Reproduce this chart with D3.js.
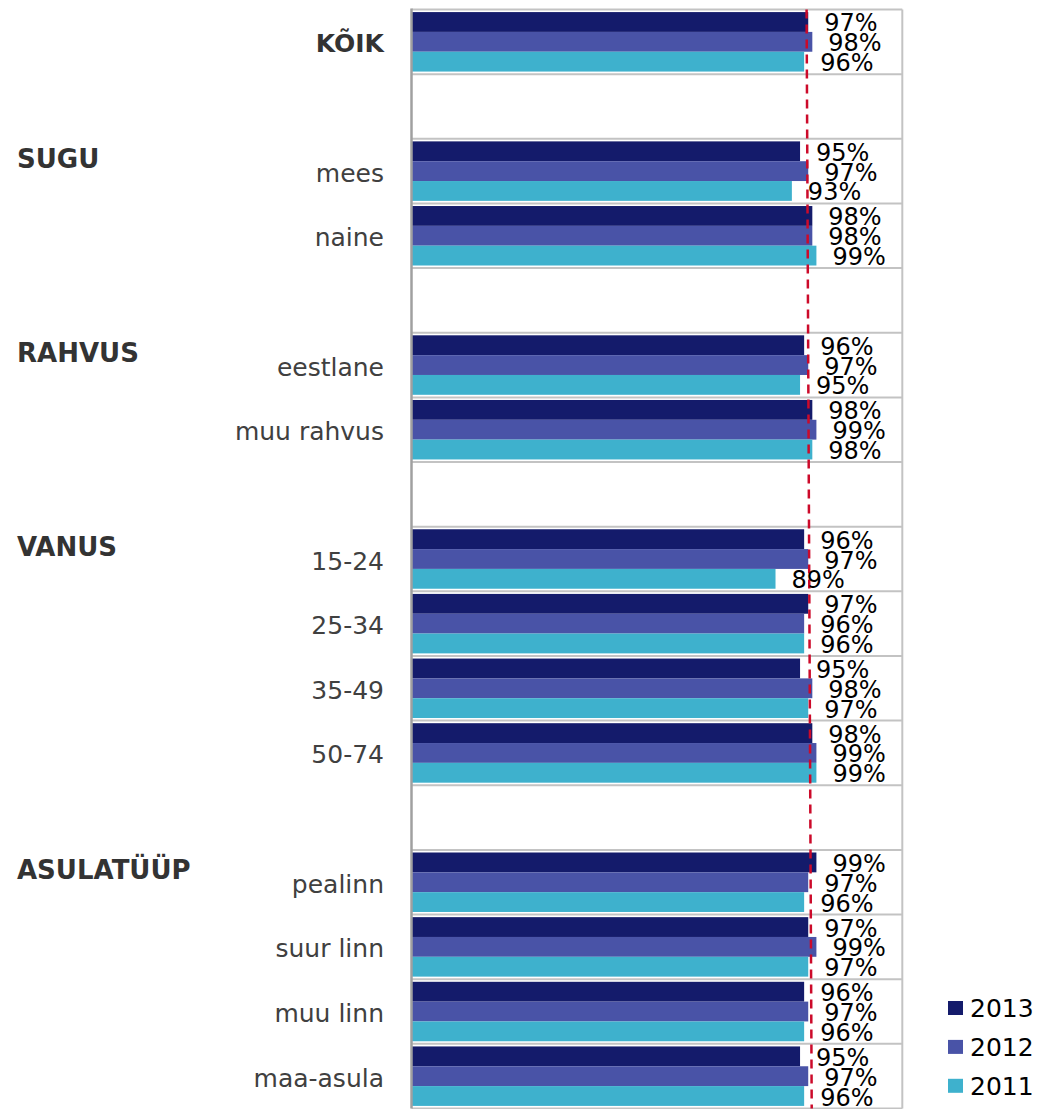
<!DOCTYPE html>
<html>
<head>
<meta charset="utf-8">
<script src="https://cdn.jsdelivr.net/npm/d3@7"></script>
<style>
  html, body { margin: 0; padding: 0; background: #fff; }
  svg { display: block; font-family: "DejaVu Sans", Verdana, sans-serif; }
</style>
</head>
<body>
<svg id="chart" width="1038" height="1109"></svg>
<script>
// ---- data ----
const categories = ["KÕIK", "", "mees", "naine", "", "eestlane", "muu rahvus", "",
  "15-24", "25-34", "35-49", "50-74", "", "pealinn", "suur linn", "muu linn", "maa-asula"];
const boldCategories = ["KÕIK"];
const groupHeaders = ["SUGU", "RAHVUS", "VANUS", "ASULATÜÜP"];
const groupHeaderRows = [2, 5, 8, 13];
const years = ["2013", "2012", "2011"];
const values2013 = [97, null, 95, 98, null, 96, 98, null, 96, 97, 95, 98, null, 99, 97, 96, 95];
const values2012 = [98, null, 97, 98, null, 97, 99, null, 97, 96, 98, 99, null, 97, 99, 97, 97];
const values2011 = [96, null, 93, 99, null, 95, 98, null, 89, 96, 97, 99, null, 96, 97, 96, 96];
const referenceLine = [96.6, 97.85]; // value at top and at bottom of the plot
const xDomain = [0, 120];

// ---- layout ----
const colors = ["#141b6b", "#4953a7", "#3eb1cd"];
const series = [values2013, values2012, values2011];
const pLeft = 411.5, pRight = 902.3, pTop = 9.5, pBottom = 1108.5;

const svg = d3.select("#chart");
const x = d3.scaleLinear().domain(xDomain).range([pLeft, pRight]);
const rows = d3.range(categories.length);
const y = d3.scaleBand().domain(rows).range([pTop, pBottom]).paddingInner(0.08).paddingOuter(0.04);
const ySub = d3.scaleBand().domain(d3.range(years.length)).range([0, y.bandwidth()]);
const step = y.step();

// gridlines (row boundaries)
const gridY = d3.range(categories.length + 1).map(i => pTop + i * step);
svg.append("g").selectAll("line").data(gridY).join("line")
  .attr("x1", pLeft).attr("x2", pRight)
  .attr("y1", d => d).attr("y2", d => d)
  .attr("stroke", "#c3c3c3").attr("stroke-width", 2);

// right border
svg.append("line").attr("x1", pRight).attr("x2", pRight).attr("y1", pTop).attr("y2", pBottom)
  .attr("stroke", "#c3c3c3").attr("stroke-width", 2);

// bars
const barData = [];
rows.forEach(r => series.forEach((s, k) => {
  if (s[r] != null) barData.push({ row: r, k, v: s[r] });
}));
svg.append("g").selectAll("rect").data(barData).join("rect")
  .attr("x", x(0))
  .attr("y", d => y(d.row) + ySub(d.k))
  .attr("width", d => x(d.v) - x(0))
  .attr("height", ySub.bandwidth())
  .attr("fill", d => colors[d.k]);

// left axis line
svg.append("line").attr("x1", pLeft).attr("x2", pLeft).attr("y1", pTop - 1).attr("y2", pBottom)
  .attr("stroke", "#a0a0a0").attr("stroke-width", 2.5);

// reference dashed line
svg.append("line")
  .attr("x1", x(referenceLine[0])).attr("y1", pTop)
  .attr("x2", x(referenceLine[1])).attr("y2", pBottom)
  .attr("stroke", "#cc0a2a").attr("stroke-width", 2.5)
  .attr("stroke-dasharray", "9,6");

// value labels
svg.append("g").selectAll("text").data(barData).join("text")
  .attr("x", d => x(d.v) + 16)
  .attr("y", d => y(d.row) + ySub(d.k) + ySub.bandwidth() / 2 + 9.5)
  .attr("font-size", 24)
  .attr("fill", "#000")
  .text(d => d.v + "%");

// category labels
svg.append("g").selectAll("text").data(rows.filter(r => categories[r] !== "")).join("text")
  .attr("x", 384)
  .attr("y", r => y(r) + y.bandwidth() / 2 + 10.5)
  .attr("text-anchor", "end")
  .attr("font-size", 25)
  .attr("font-weight", r => boldCategories.includes(categories[r]) ? "bold" : "normal")
  .attr("fill", r => boldCategories.includes(categories[r]) ? "#333" : "#404040")
  .text(r => categories[r]);

// group headers
svg.append("g").selectAll("text").data(groupHeaders).join("text")
  .attr("x", 17)
  .attr("y", (d, i) => pTop + groupHeaderRows[i] * step + 29)
  .attr("font-size", 26)
  .attr("font-weight", "bold")
  .attr("fill", "#333")
  .text(d => d);

// legend
const legend = svg.append("g").attr("transform", "translate(948,1001)");
const lg = legend.selectAll("g").data(years).join("g")
  .attr("transform", (d, i) => `translate(0,${i * 38.9})`);
lg.append("rect").attr("width", 15).attr("height", 14).attr("fill", (d, i) => colors[i]);
lg.append("text").attr("x", 22).attr("y", 16).attr("font-size", 25).attr("fill", "#000").text(d => d);
</script>
</body>
</html>
